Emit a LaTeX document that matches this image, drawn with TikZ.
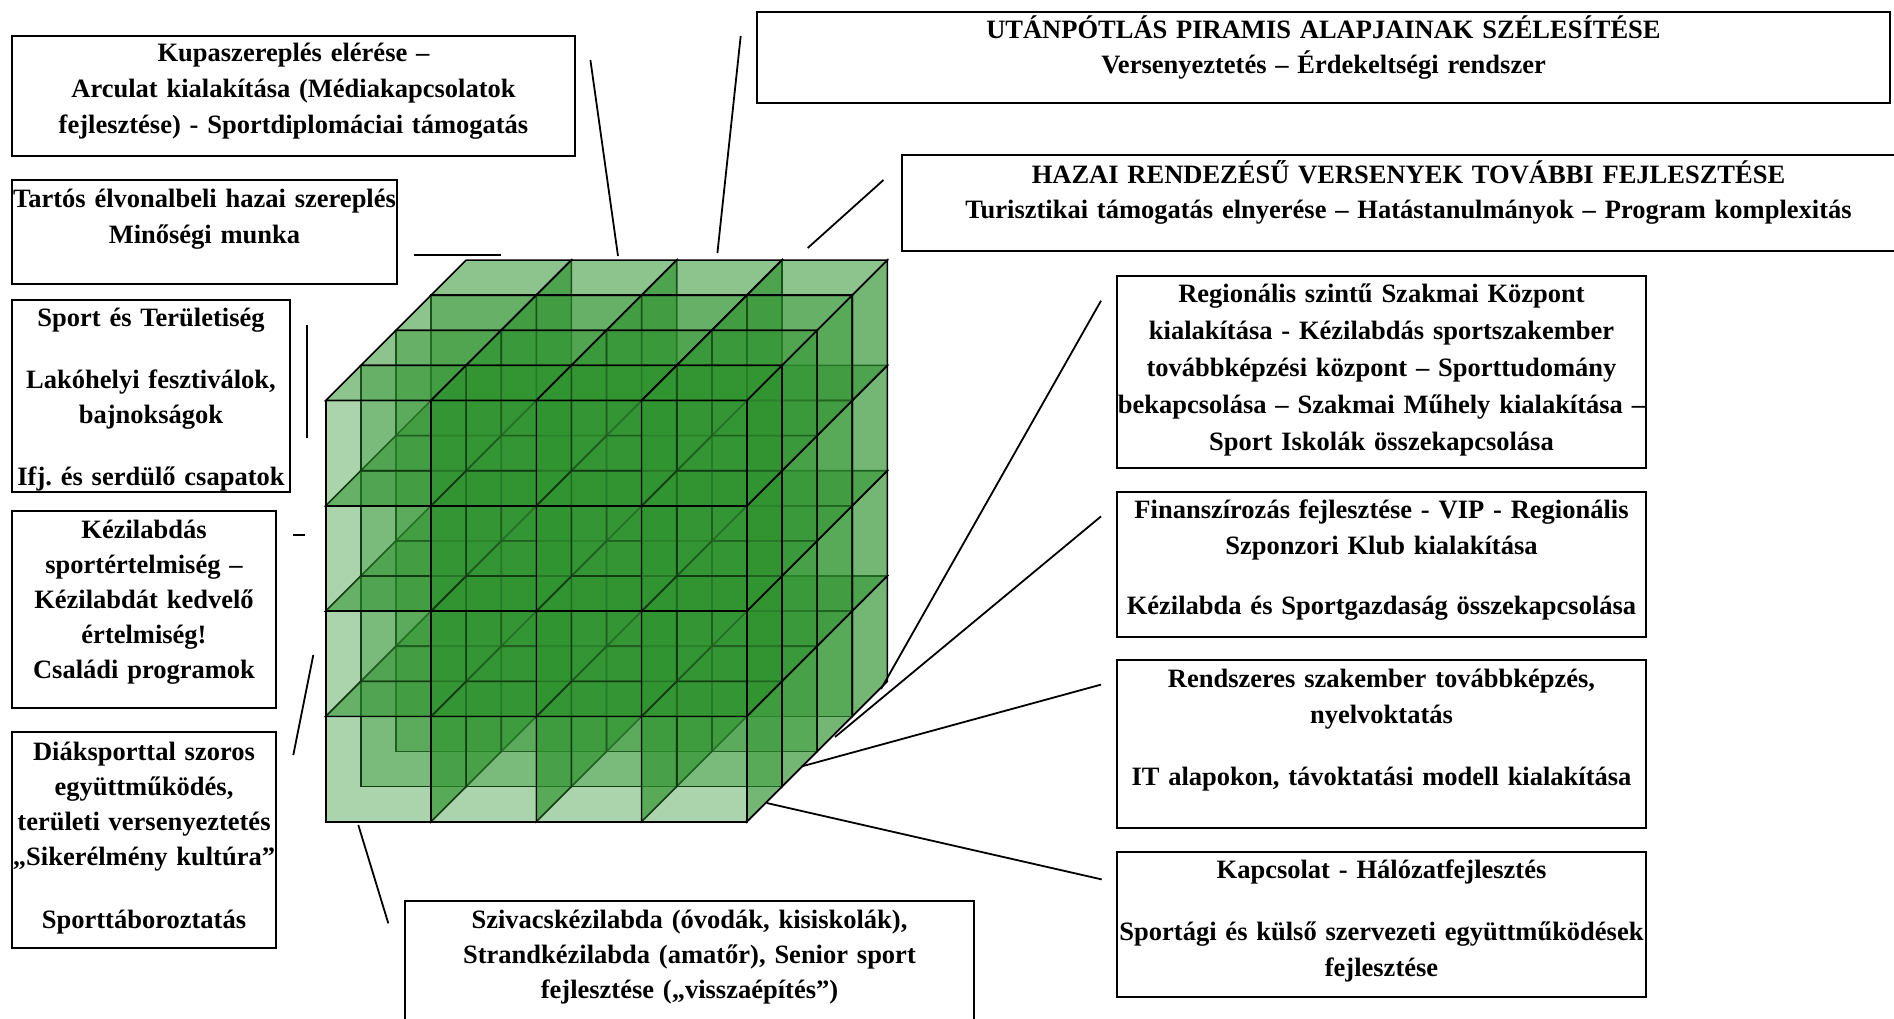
\documentclass[tikz,border=0pt]{standalone}
\usepackage{fontspec}
\setmainfont{Liberation Serif}
\usetikzlibrary{positioning}
\definecolor{kocka}{RGB}{48,148,48}
\frenchspacing

\begin{document}
\begin{tikzpicture}[
    x=1pt, y=-1pt,
    box/.style={draw, line width=1.8pt, anchor=north west, inner sep=0pt, outer sep=0pt, align=center, text height=27pt, font=\bfseries\fontsize{26.5}{36}\selectfont},
    tight/.style={font=\bfseries\fontsize{26.5}{35}\selectfont},
    conn/.style={line width=1.8pt},
    frontface/.style={draw, line width=1.6pt, fill=kocka, fill opacity=0.4},
    topface/.style={draw, line width=1.6pt, fill=kocka, fill opacity=0.55},
    sideface/.style={draw, line width=1.6pt, fill=kocka, fill opacity=0.67}
]
\path[use as bounding box, fill=white] (0,0) rectangle (1894,1018);

% 立方体
\begin{scope}[shift={(325.7,821.7)}, x=105.3pt, y=105.3pt]
\foreach \k in {3,2,1,0}
  \foreach \j in {0,...,3}
    \foreach \i in {0,...,3}{
      \draw[topface] (\i+\k/3,\j+1+\k/3) -- ++(1,0) -- ++(1/3,1/3) -- ++(-1,0) -- cycle;
      \draw[sideface] (\i+1+\k/3,\j+\k/3) -- ++(1/3,1/3) -- ++(0,1) -- ++(-1/3,-1/3) -- cycle;
      \draw[frontface] (\i+\k/3,\j+\k/3) rectangle ++(1,1);
    }
\end{scope}

% 左侧
\node[box, text width=563pt, text height=25.5pt, text depth=94.5pt] (kupa) at (12,36)
    {Kupaszereplés elérése –\\ Arculat kialakítása (Médiakapcsolatok\\ fejlesztése) - Sportdiplomáciai támogatás};
\node[box, below=24pt of kupa.south west, anchor=north west, text width=385pt, text height=27.5pt, text depth=76.5pt] (tartos)
    {Tartós élvonalbeli hazai szereplés\\ Minőségi munka};
\node[box, tight, below=16pt of tartos.south west, anchor=north west, text width=278pt, text height=26.5pt, text depth=165.5pt] (sport)
    {Sport és Területiség\\[27pt] Lakóhelyi fesztiválok,\\ bajnokságok\\[27pt] Ifj. és serdülő csapatok};
\node[box, tight, below=19pt of sport.south west, anchor=north west, text width=264pt, text height=27.5pt, text depth=169.5pt] (kezilabdas)
    {Kézilabdás\\ sportértelmiség –\\ Kézilabdát kedvelő\\ értelmiség!\\ Családi programok};
\node[box, tight, below=24pt of kezilabdas.south west, anchor=north west, text width=264pt, text height=28pt, text depth=188pt] (diaksport)
    {Diáksporttal szoros\\ együttműködés,\\ területi versenyeztetés\\ „Sikerélmény kultúra”\\[28pt] Sporttáboroztatás};

% 上方
\node[box, tight, text width=1133pt, text height=26pt, text depth=65pt] (utanpotlas) at (757,12)
    {UTÁNPÓTLÁS PIRAMIS ALAPJAINAK SZÉLESÍTÉSE\\ Versenyeztetés – Érdekeltségi rendszer};
\node[box, tight, text width=1013pt, text height=28pt, text depth=68pt] (hazai) at (902,155)
    {HAZAI RENDEZÉSŰ VERSENYEK TOVÁBBI FEJLESZTÉSE\\ Turisztikai támogatás elnyerése – Hatástanulmányok – Program komplexitás};

% 右侧
\node[box, text width=529pt, text height=26.5pt, text depth=165.5pt, font=\bfseries\fontsize{26.5}{37}\selectfont] (regionalis) at (1117,276)
    {Regionális szintű Szakmai Központ\\ kialakítása - Kézilabdás sportszakember\\ továbbképzési központ – Sporttudomány\\ bekapcsolása – Szakmai Műhely kialakítása –\\ Sport Iskolák összekapcsolása};
\node[box, below=24pt of regionalis.south west, anchor=north west, text width=529pt, text height=26.5pt, text depth=118.5pt] (finansz)
    {Finanszírozás fejlesztése - VIP - Regionális\\ Szponzori Klub kialakítása\\[24pt] Kézilabda és Sportgazdaság összekapcsolása};
\node[box, below=23pt of finansz.south west, anchor=north west, text width=529pt, text height=27.5pt, text depth=140.5pt] (rendszeres)
    {Rendszeres szakember továbbképzés,\\ nyelvoktatás\\[26pt] IT alapokon, távoktatási modell kialakítása};
\node[box, below=24pt of rendszeres.south west, anchor=north west, text width=529pt, text height=26.5pt, text depth=118.5pt] (kapcsolat)
    {Kapcsolat - Hálózatfejlesztés\\[26pt] Sportági és külső szervezeti együttműködések\\ fejlesztése};

% 下方
\node[box, tight, text width=569pt, text height=27pt, text depth=102pt] (szivacs) at (405,901)
    {Szivacskézilabda (óvodák, kisiskolák),\\ Strandkézilabda (amatőr), Senior sport\\ fejlesztése („visszaépítés”)};

% 连接线
\coordinate (kupa-a) at (590.4,60);     \coordinate (kupa-b) at (618,256);
\coordinate (utan-a) at (740.7,36);     \coordinate (utan-b) at (717.4,253);
\coordinate (hazai-a) at (883.5,180);   \coordinate (hazai-b) at (807.7,248);
\coordinate (tartos-a) at (413.5,255);  \coordinate (tartos-b) at (500.7,255);
\coordinate (sport-a) at (307.3,325);   \coordinate (sport-b) at (307.3,438);
\coordinate (kezi-a) at (293,535);      \coordinate (kezi-b) at (305,535);
\coordinate (diak-a) at (313.3,655);    \coordinate (diak-b) at (293.3,755);
\coordinate (sziv-a) at (358.3,825);    \coordinate (sziv-b) at (388.3,923.3);
\coordinate (reg-a) at (1101,300.7);    \coordinate (reg-b) at (881,689);
\coordinate (fin-a) at (1101,516.4);    \coordinate (fin-b) at (835,737);
\coordinate (rend-a) at (1101,684.6);   \coordinate (rend-b) at (801.7,766.4);
\coordinate (kap-a) at (766.7,803);     \coordinate (kap-b) at (1101.7,879.4);

\draw[conn] (kupa-a) -- (kupa-b);
\draw[conn] (utan-a) -- (utan-b);
\draw[conn] (hazai-a) -- (hazai-b);
\draw[conn] (tartos-a) -- (tartos-b);
\draw[conn] (sport-a) -- (sport-b);
\draw[conn] (kezi-a) -- (kezi-b);
\draw[conn] (diak-a) -- (diak-b);
\draw[conn] (sziv-a) -- (sziv-b);
\draw[conn] (reg-a) -- (reg-b);
\draw[conn] (fin-a) -- (fin-b);
\draw[conn] (rend-a) -- (rend-b);
\draw[conn] (kap-a) -- (kap-b);

\end{tikzpicture}
\end{document}
